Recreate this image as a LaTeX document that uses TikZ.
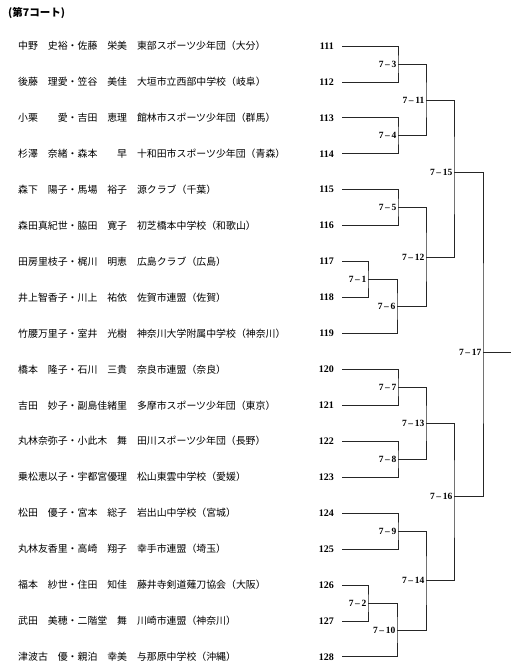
\documentclass[tikz,border=0pt]{standalone}
\usepackage{fontspec}
\setmainfont{Liberation Serif}
\newfontfamily\cjk{Noto Sans CJK JP}
\begin{document}
\begin{tikzpicture}[x=1pt,y=-1pt,
  ln/.style={line width=0.75pt, draw=black!85},
  num/.style={font=\fontsize{10}{12}\selectfont\bfseries, anchor=east, inner xsep=8pt, inner ysep=1pt},
  lab/.style={font=\fontsize{9.5}{11}\selectfont\bfseries, anchor=east, inner sep=1.5pt},
  row/.style={font=\cjk\fontsize{9.9}{12}\selectfont, anchor=west, inner sep=0pt},
  ttl/.style={font=\cjk\bfseries\fontsize{10.5}{12}\selectfont, anchor=west, inner sep=0pt}]
\useasboundingbox (0,0) rectangle (519,668);
\node[ttl] (title) at (8,13) {(第7コート)};
\foreach \i/\t in {
 1/{中野　史裕・佐藤　栄美　東部スポーツ少年団（大分）},
 2/{後藤　理愛・笠谷　美佳　大垣市立西部中学校（岐阜）},
 3/{小栗　　愛・吉田　恵理　館林市スポーツ少年団（群馬）},
 4/{杉澤　奈緒・森本　　早　十和田市スポーツ少年団（青森）},
 5/{森下　陽子・馬場　裕子　源クラブ（千葉）},
 6/{森田真紀世・脇田　寛子　初芝橋本中学校（和歌山）},
 7/{田房里枝子・梶川　明恵　広島クラブ（広島）},
 8/{井上智香子・川上　祐依　佐賀市連盟（佐賀）},
 9/{竹腰万里子・室井　光樹　神奈川大学附属中学校（神奈川）},
 10/{橋本　隆子・石川　三貴　奈良市連盟（奈良）},
 11/{吉田　妙子・副島佳緒里　多摩市スポーツ少年団（東京）},
 12/{丸林奈弥子・小此木　舞　田川スポーツ少年団（長野）},
 13/{乗松恵以子・宇都宮優理　松山東雲中学校（愛媛）},
 14/{松田　優子・宮本　総子　岩出山中学校（宮城）},
 15/{丸林友香里・高崎　翔子　幸手市連盟（埼玉）},
 16/{福本　紗世・住田　知佳　藤井寺剣道薙刀協会（大阪）},
 17/{武田　美穂・二階堂　舞　川崎市連盟（神奈川）},
 18/{津波古　優・親泊　幸美　与那原中学校（沖縄）}} {
  \pgfmathsetmacro\yy{46+35.93*(\i-1)}
  \pgfmathtruncatemacro\nn{110+\i}
  \node[row] (r\i) at (18,\yy) {\t};
  \node[num] (t\nn) at (342,\yy) {\nn};
}
% junctions
\coordinate (j3) at (398,64);
\coordinate (j4) at (398,135.8);
\coordinate (j5) at (398,207.7);
\coordinate (j1) at (368,279.5);
\coordinate (j6) at (397,306.5);
\coordinate (j11) at (426,99.9);
\coordinate (j12) at (426,257.1);
\coordinate (j15) at (454,172);
\coordinate (j7) at (398,387.3);
\coordinate (j8) at (398,459.2);
\coordinate (j13) at (426,423.3);
\coordinate (j9) at (398,531.1);
\coordinate (j2) at (368,602.9);
\coordinate (j10) at (397,629.9);
\coordinate (j14) at (426,580.5);
\coordinate (j16) at (454,496);
\coordinate (j17) at (483,352);
\coordinate (win) at (511,352);
% bracket lines
\draw[ln] (t111.east) -| (j3) |- (t112.east);
\draw[ln] (t113.east) -| (j4) |- (t114.east);
\draw[ln] (t115.east) -| (j5) |- (t116.east);
\draw[ln] (t117.east) -| (j1) |- (t118.east);
\draw[ln] (j1) -| (j6) |- (t119.east);
\draw[ln] (j3) -| (j11) |- (j4);
\draw[ln] (j5) -| (j12) |- (j6);
\draw[ln] (j11) -| (j15) |- (j12);
\draw[ln] (t120.east) -| (j7) |- (t121.east);
\draw[ln] (t122.east) -| (j8) |- (t123.east);
\draw[ln] (j7) -| (j13) |- (j8);
\draw[ln] (t124.east) -| (j9) |- (t125.east);
\draw[ln] (t126.east) -| (j2) |- (t127.east);
\draw[ln] (j2) -| (j10) |- (t128.east);
\draw[ln] (j9) -| (j14) |- (j10);
\draw[ln] (j13) -| (j16) |- (j14);
\draw[ln] (j15) -| (j17) |- (j16);
\draw[ln] (j17) -- (win);
% match labels
\node[lab] (l1) at (j1) {7\,–\,1};
\node[lab] (l2) at (j2) {7\,–\,2};
\node[lab] (l3) at (j3) {7\,–\,3};
\node[lab] (l4) at (j4) {7\,–\,4};
\node[lab] (l5) at (j5) {7\,–\,5};
\node[lab] (l6) at (j6) {7\,–\,6};
\node[lab] (l7) at (j7) {7\,–\,7};
\node[lab] (l8) at (j8) {7\,–\,8};
\node[lab] (l9) at (j9) {7\,–\,9};
\node[lab] (l10) at (j10) {7\,–\,10};
\node[lab] (l11) at (j11) {7\,–\,11};
\node[lab] (l12) at (j12) {7\,–\,12};
\node[lab] (l13) at (j13) {7\,–\,13};
\node[lab] (l14) at (j14) {7\,–\,14};
\node[lab] (l15) at (j15) {7\,–\,15};
\node[lab] (l16) at (j16) {7\,–\,16};
\node[lab] (l17) at (j17) {7\,–\,17};
\end{tikzpicture}
\end{document}
